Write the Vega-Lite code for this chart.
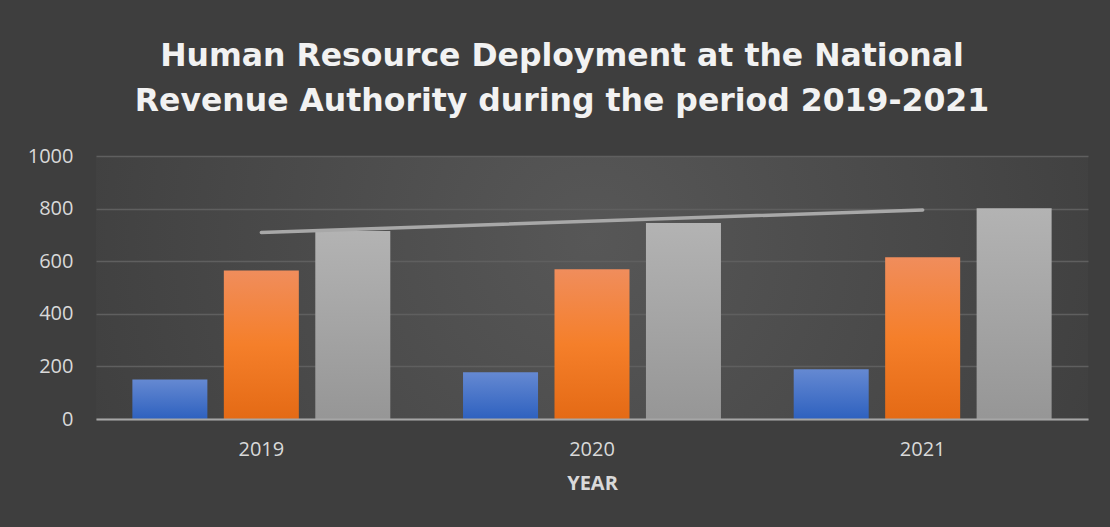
{
  "$schema": "https://vega.github.io/schema/vega-lite/v6.json",
  "width": 992,
  "height": 263,
  "autosize": {"type": "none"},
  "padding": {"left": 96, "top": 156, "right": 22, "bottom": 108},
  "background": "#3e3e3e",
  "config": {
    "font": "Open Sans",
    "view": {
      "stroke": null,
      "fill": {"gradient": "radial", "x1": 0.5, "y1": 0.45, "r1": 0, "x2": 0.5, "y2": 0.45, "r2": 0.58,
        "stops": [{"offset": 0, "color": "#575757"}, {"offset": 1, "color": "#3e3e3e"}]}
    }
  },
  "title": {
    "text": ["Human Resource Deployment at the National", "Revenue Authority during the period 2019-2021"],
    "font": "DejaVu Sans",
    "fontSize": 31.5,
    "fontWeight": "bold",
    "color": "#f2f2f2",
    "lineHeight": 45,
    "anchor": "middle",
    "baseline": "alphabetic",
    "offset": 4,
    "dx": -30
  },
  "datasets": {
    "bars": [
      {"year": "2019", "series": "Series 1", "value": 150},
      {"year": "2019", "series": "Series 2", "value": 565},
      {"year": "2019", "series": "Total", "value": 715},
      {"year": "2020", "series": "Series 1", "value": 178},
      {"year": "2020", "series": "Series 2", "value": 569},
      {"year": "2020", "series": "Total", "value": 745},
      {"year": "2021", "series": "Series 1", "value": 189},
      {"year": "2021", "series": "Series 2", "value": 615},
      {"year": "2021", "series": "Total", "value": 801}
    ],
    "trend": [
      {"year": "2019", "value": 709},
      {"year": "2021", "value": 795}
    ]
  },
  "encoding": {
    "x": {
      "field": "year", "type": "ordinal",
      "scale": {"domain": ["2019", "2020", "2021"], "paddingInner": 0.22, "paddingOuter": 0.11},
      "axis": {
        "title": "YEAR", "titleFontSize": 20, "titleFontWeight": "bold", "titleColor": "#d9d9d9", "titlePadding": 14,
        "labelFontSize": 20, "labelColor": "#d9d9d9", "labelAngle": 0, "labelPadding": 20,
        "ticks": false, "domain": true, "domainColor": "#a6a6a6", "domainWidth": 2, "grid": false, "zindex": 1
      }
    },
    "y": {
      "field": "value", "type": "quantitative",
      "scale": {"domain": [0, 1000], "nice": false},
      "axis": {
        "title": null, "values": [0, 200, 400, 600, 800, 1000], "format": "d",
        "domain": false, "ticks": false, "labelPadding": 23,
        "labelFontSize": 20, "labelColor": "#d9d9d9",
        "grid": true, "gridColor": "#5f5f5f", "gridWidth": 1.3
      }
    }
  },
  "layer": [
    {
      "data": {"name": "bars"},
      "transform": [{"filter": "datum.series === 'Series 1'"}],
      "mark": {"type": "bar", "fill": {"gradient": "linear", "x1": 0, "y1": 0, "x2": 0, "y2": 1,
        "stops": [{"offset": 0, "color": "#6589d2"}, {"offset": 1, "color": "#2e61bf"}]}},
      "encoding": {"xOffset": {"field": "series", "type": "nominal", "scale": {"domain": ["Series 1", "Series 2", "Total"], "paddingInner": 0.18, "paddingOuter": 0}}}
    },
    {
      "data": {"name": "bars"},
      "transform": [{"filter": "datum.series === 'Series 2'"}],
      "mark": {"type": "bar", "fill": {"gradient": "linear", "x1": 0, "y1": 0, "x2": 0, "y2": 1,
        "stops": [{"offset": 0, "color": "#f08d5c"}, {"offset": 0.5, "color": "#f57f2a"}, {"offset": 1, "color": "#e46a15"}]}},
      "encoding": {"xOffset": {"field": "series", "type": "nominal"}}
    },
    {
      "data": {"name": "bars"},
      "transform": [{"filter": "datum.series === 'Total'"}],
      "mark": {"type": "bar", "fill": {"gradient": "linear", "x1": 0, "y1": 0, "x2": 0, "y2": 1,
        "stops": [{"offset": 0, "color": "#b3b3b3"}, {"offset": 1, "color": "#969696"}]}},
      "encoding": {"xOffset": {"field": "series", "type": "nominal"}}
    },
    {
      "data": {"name": "trend"},
      "mark": {"type": "line", "color": "#a8a8a8", "strokeWidth": 3.5, "strokeCap": "round"},
      "encoding": {}
    }
  ]
}
